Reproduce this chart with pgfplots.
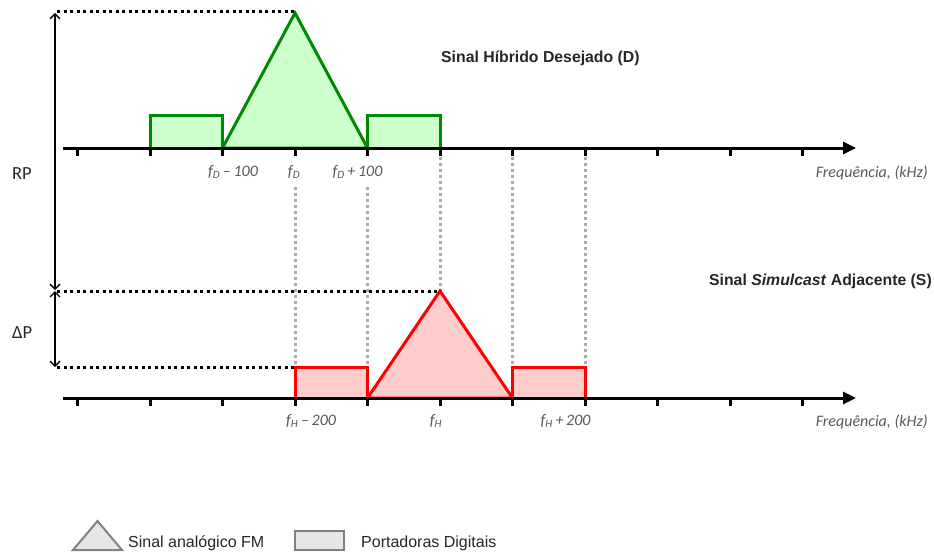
\documentclass[border=0pt]{standalone}
\usepackage{pgfplots}
\pgfplotsset{compat=1.18}
\usepackage{fontspec}
\setmainfont{Liberation Sans}
\newfontfamily\calfont{Carlito}
\usetikzlibrary{arrows.meta}
\definecolor{gline}{HTML}{008A00}
\definecolor{gfill}{HTML}{CCFFCC}
\definecolor{rline}{HTML}{FF0000}
\definecolor{rfill}{HTML}{FFCCCC}
\definecolor{dgray}{HTML}{ABABAB}
\definecolor{tgray}{HTML}{595959}
\definecolor{lgline}{HTML}{808080}
\definecolor{lgfill}{HTML}{E6E6E6}
\definecolor{txt}{HTML}{262626}
\begin{document}
\begin{tikzpicture}
\begin{axis}[width=934bp,height=553bp,scale only axis,
  xmin=0,xmax=934,ymin=0,ymax=553,y dir=reverse,hide axis,clip=false]
\addplot[draw=none] coordinates {(0,0) (934,553)};
% gray dotted verticals
\addplot[dgray, line width=3bp, dash pattern=on 3bp off 3bp] coordinates {(295,187) (295,367)};
\addplot[dgray, line width=3bp, dash pattern=on 3bp off 3bp] coordinates {(367.5,187) (367.5,367)};
\addplot[dgray, line width=3bp, dash pattern=on 3bp off 3bp] coordinates {(440,151) (440,291)};
\addplot[dgray, line width=3bp, dash pattern=on 3bp off 3bp] coordinates {(512.5,151) (512.5,367)};
\addplot[dgray, line width=3bp, dash pattern=on 3bp off 3bp] coordinates {(585,151) (585,367)};
% black dotted levels
\addplot[black, line width=3bp, dash pattern=on 3bp off 3.5bp] coordinates {(57,12) (295,12)};
\addplot[black, line width=3bp, dash pattern=on 3bp off 3.5bp] coordinates {(57,291) (440,291)};
\addplot[black, line width=3bp, dash pattern=on 3bp off 3.5bp] coordinates {(57,367) (295,367)};
% green: desired hybrid signal
\addplot[draw=gline, fill=gfill, line width=3bp] coordinates {(150,148) (150,116) (222.5,116) (222.5,148)} -- cycle;
\addplot[draw=gline, fill=gfill, line width=3bp] coordinates {(222.5,148) (295,13) (367.5,148)} -- cycle;
\addplot[draw=gline, fill=gfill, line width=3bp] coordinates {(367.5,148) (367.5,116) (440,116) (440,148)} -- cycle;
% red: adjacent simulcast signal
\addplot[draw=rline, fill=rfill, line width=3bp] coordinates {(295,398) (295,367) (367.5,367) (367.5,398)} -- cycle;
\addplot[draw=rline, fill=rfill, line width=3bp] coordinates {(367.5,398) (440,291) (512.5,398)} -- cycle;
\addplot[draw=rline, fill=rfill, line width=3bp] coordinates {(512.5,398) (512.5,367) (585,367) (585,398)} -- cycle;
% frequency axes
\addplot[black, line width=3bp, -{Triangle[length=13bp,width=12bp]}] coordinates {(63,148) (856,148)};
\addplot[black, line width=3bp, -{Triangle[length=13bp,width=12bp]}] coordinates {(63,398) (856,398)};
\addplot[black, only marks, mark=|, mark size=4bp, line width=3bp] coordinates {(77.5,152) (150,152) (222.5,152) (295,152) (367.5,152) (440,152) (512.5,152) (585,152) (657.5,152) (730,152) (802.5,152)};
\addplot[black, only marks, mark=|, mark size=4bp, line width=3bp] coordinates {(77.5,402) (150,402) (222.5,402) (295,402) (367.5,402) (440,402) (512.5,402) (585,402) (657.5,402) (730,402) (802.5,402)};
% level arrows
\addplot[black, line width=1.4bp, {Straight Barb[length=5bp,width=10bp]}-{Straight Barb[length=5bp,width=10bp]}] coordinates {(55,13) (55,290)};
\addplot[black, line width=1.4bp, {Straight Barb[length=5bp,width=10bp]}-{Straight Barb[length=5bp,width=10bp]}] coordinates {(55,291) (55,367)};
% legend shapes
\addplot[draw=lgline, fill=lgfill, line width=2bp] coordinates {(73,550) (97.5,521) (122,550)} -- cycle;
\addplot[draw=lgline, fill=lgfill, line width=2bp] coordinates {(295,531) (344,531) (344,550) (295,550)} -- cycle;
% texts
\begin{scope}[every node/.style={inner sep=0pt}]
\node[anchor=base, text=tgray, font=\calfont\itshape\fontsize{16bp}{19bp}\selectfont] at (axis cs:233,176) {f\textsubscript{D}\,–\,100};
\node[anchor=base, text=tgray, font=\calfont\itshape\fontsize{16bp}{19bp}\selectfont] at (axis cs:294,176) {f\textsubscript{D}};
\node[anchor=base, text=tgray, font=\calfont\itshape\fontsize{16bp}{19bp}\selectfont] at (axis cs:357.5,176) {f\textsubscript{D}\,+\,100};
\node[anchor=base, text=tgray, font=\calfont\itshape\fontsize{16bp}{19bp}\selectfont] at (axis cs:311,425) {f\textsubscript{H}\,–\,200};
\node[anchor=base, text=tgray, font=\calfont\itshape\fontsize{16bp}{19bp}\selectfont] at (axis cs:436,425) {f\textsubscript{H}};
\node[anchor=base, text=tgray, font=\calfont\itshape\fontsize{16bp}{19bp}\selectfont] at (axis cs:565.5,425) {f\textsubscript{H}\,+\,200};
\node[anchor=base east, text=tgray, font=\calfont\itshape\fontsize{16bp}{19bp}\selectfont] at (axis cs:928,177) {Frequência, (kHz)};
\node[anchor=base east, text=tgray, font=\calfont\itshape\fontsize{16bp}{19bp}\selectfont] at (axis cs:928,426) {Frequência, (kHz)};
\node[anchor=base west, text=txt, font=\calfont\fontsize{18.5bp}{21bp}\selectfont] at (axis cs:12,179) {RP};
\node[anchor=base west, text=txt, font=\calfont\fontsize{18.5bp}{21bp}\selectfont] at (axis cs:12,338) {ΔP};
\node[anchor=base west, text=txt, font=\bfseries\fontsize{15.8bp}{19bp}\selectfont] at (axis cs:441,63) {Sinal Híbrido Desejado (D)};
\node[anchor=base east, text=txt, font=\bfseries\fontsize{15.8bp}{19bp}\selectfont] at (axis cs:932,285) {Sinal \textit{Simulcast} Adjacente (S)};
\node[anchor=base west, text=txt, font=\fontsize{16bp}{19bp}\selectfont] at (axis cs:128,547) {Sinal analógico FM};
\node[anchor=base west, text=txt, font=\fontsize{16bp}{19bp}\selectfont] at (axis cs:361,547) {Portadoras Digitais};
\end{scope}
\end{axis}
\end{tikzpicture}
\end{document}
